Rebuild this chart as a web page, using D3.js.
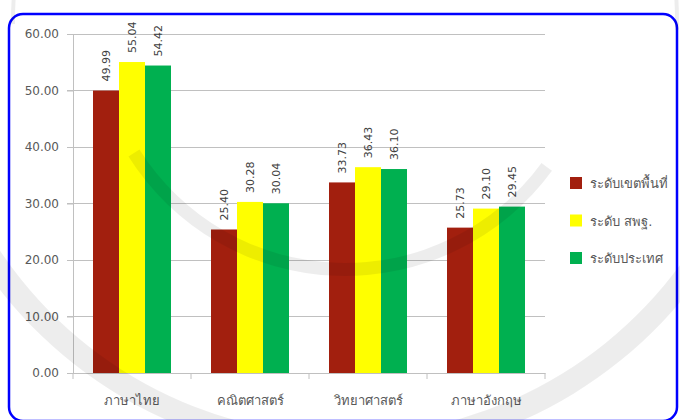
<!DOCTYPE html>
<html><head><meta charset="utf-8">
<script src="https://cdn.jsdelivr.net/npm/d3@7"></script>
<style>body{margin:0;background:#fff}svg{display:block}</style>
</head><body>
<svg id="c" width="680" height="420"></svg>
<script>
const categories = ["ภาษาไทย", "คณิตศาสตร์", "วิทยาศาสตร์", "ภาษาอังกฤษ"];
const seriesNames = ["ระดับเขตพื้นที่", "ระดับ สพฐ.", "ระดับประเทศ"];
const regionValues = [49.99, 25.40, 33.73, 25.73];
const obecValues = [55.04, 30.28, 36.43, 29.10];
const nationValues = [54.42, 30.04, 36.10, 29.45];
const yTicks = [0, 10, 20, 30, 40, 50, 60];
const colors = ["#A21F0E", "#FFFF00", "#00B050"];

const series = [regionValues, obecValues, nationValues];
const svg = d3.select("#c");
const font = "Tahoma, 'DejaVu Sans', 'Noto Sans', sans-serif";

// border
svg.append("rect").attr("x", 9).attr("y", 14).attr("width", 668).attr("height", 407)
  .attr("rx", 14).attr("fill", "none").attr("stroke", "#0000FF").attr("stroke-width", 2.5);

const x0 = d3.scaleBand().domain(categories).range([73, 545]);
const x1 = d3.scaleBand().domain(d3.range(series.length)).range([20, 98]);
const y = d3.scaleLinear().domain([0, 60]).range([373, 34]);

// gridlines
svg.append("g").selectAll("line").data(yTicks).join("line")
  .attr("x1", 67).attr("x2", 545).attr("y1", d => y(d)).attr("y2", d => y(d))
  .attr("stroke", "#c0c0c0").attr("stroke-width", 1).attr("shape-rendering", "crispEdges");

// y axis
const yAxis = svg.append("g").attr("transform", "translate(73,0)")
  .call(d3.axisLeft(y).tickValues(yTicks).tickFormat(d3.format(".2f")).tickSize(6));
yAxis.select(".domain").attr("stroke", "#c0c0c0");
yAxis.selectAll(".tick line").attr("stroke", "#c0c0c0");
yAxis.selectAll("text").attr("font-family", font).attr("font-size", 12).attr("fill", "#595959").attr("x", -14);

// x axis
const xAxis = svg.append("g").attr("transform", "translate(0,373)")
  .call(d3.axisBottom(x0).tickSize(0).tickPadding(23));
xAxis.select(".domain").attr("stroke", "#c0c0c0");
xAxis.selectAll("text").attr("font-family", font).attr("font-size", 13).attr("fill", "#595959");
svg.append("g").selectAll("line").data(d3.range(categories.length + 1)).join("line")
  .attr("x1", i => 73 + i * x0.step()).attr("x2", i => 73 + i * x0.step())
  .attr("y1", 373).attr("y2", 379).attr("stroke", "#c0c0c0");

// bars
const groups = svg.append("g").selectAll("g").data(categories).join("g")
  .attr("transform", d => `translate(${x0(d)},0)`);
groups.selectAll("rect").data((d, ci) => series.map((s, si) => ({si, v: s[ci]}))).join("rect")
  .attr("x", d => x1(d.si)).attr("width", x1.bandwidth())
  .attr("y", d => y(d.v)).attr("height", d => y(0) - y(d.v))
  .attr("fill", d => colors[d.si]);
groups.selectAll("text").data((d, ci) => series.map((s, si) => ({si, v: s[ci]}))).join("text")
  .attr("transform", d => `translate(${x1(d.si) + x1.bandwidth() / 2 + 4},${y(d.v) - 9}) rotate(-90)`)
  .attr("font-family", font).attr("font-size", 11).attr("fill", "#404040")
  .text(d => d.v.toFixed(2));

// legend
const lg = svg.append("g").selectAll("g").data(seriesNames).join("g")
  .attr("transform", (d, i) => `translate(570,${183 + i * 37.5})`);
lg.append("rect").attr("x", 0).attr("y", -6).attr("width", 12).attr("height", 12).attr("fill", (d, i) => colors[i]);
lg.append("text").attr("x", 20).attr("y", 5).attr("font-family", font).attr("font-size", 13)
  .attr("fill", "#595959").text(d => d);

// faint watermark seal bands, drawn over everything like the reference
const wm = svg.append("g").attr("transform", "translate(345,20)").attr("fill", "#000").attr("fill-opacity", 0.07);
wm.append("path").attr("d", d3.arc()({innerRadius: 243, outerRadius: 256, startAngle: 2.2, endAngle: 4.15}));
wm.append("path").attr("d", d3.arc()({innerRadius: 415, outerRadius: 438, startAngle: 2.2, endAngle: 4.3}));
wm.append("path").attr("d", d3.arc()({innerRadius: 330, outerRadius: 334, startAngle: 0.6, endAngle: 1.6}));
wm.append("path").attr("d", d3.arc()({innerRadius: 330, outerRadius: 334, startAngle: 4.7, endAngle: 5.7}));
</script>
</body></html>
